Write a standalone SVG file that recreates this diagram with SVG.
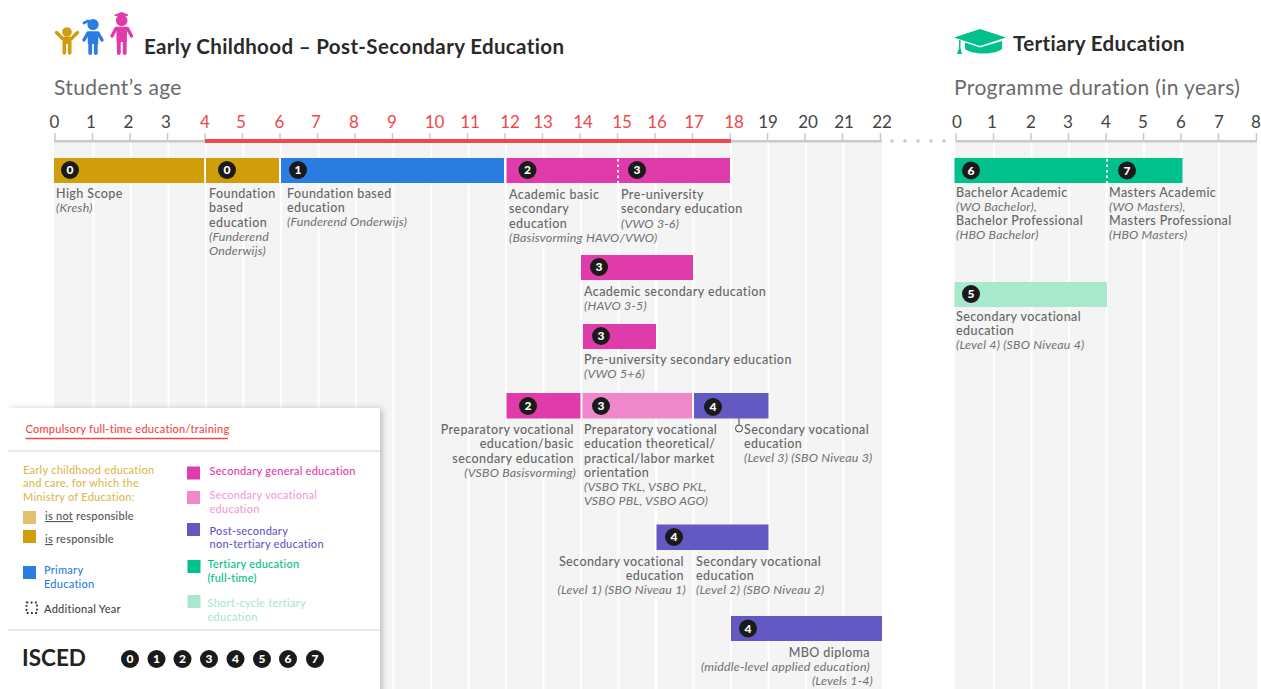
<svg xmlns="http://www.w3.org/2000/svg" width="1261" height="689" viewBox="0 0 1261 689">
<defs>
<filter id="sh" x="-10%" y="-10%" width="120%" height="120%"><feDropShadow dx="2" dy="1" stdDeviation="3" flood-color="#000" flood-opacity="0.25"/></filter>
<g id="b"><circle r="9" fill="#1a1a1a"/></g>
</defs>
<style>
text{font-family:"Lato","Liberation Sans",sans-serif}
.h{font-size:20.5px;font-weight:700;fill:#2a2a2a;letter-spacing:.36px}
.sub{font-size:21px;fill:#6a6a6a;letter-spacing:.38px}
.n{font-size:17px;fill:#444;text-anchor:middle}
.r{fill:#f0474a}
.t{font-size:12.5px;fill:#666;font-weight:500;letter-spacing:.42px}
.i{font-size:12.4px;fill:#707070;font-style:italic;letter-spacing:.2px}
.e{text-anchor:end}
.bn{font-size:12px;font-weight:900;fill:#fff;text-anchor:middle}
.l{font-size:11px;font-weight:500;letter-spacing:.25px}
.g{stroke:#fff;stroke-width:2}
.tk{stroke:#c9c9c9;stroke-width:1.5}
</style>
<rect width="1261" height="689" fill="#fff"/>
<g id="grid">
<rect x="54" y="142" width="828" height="547" fill="#f4f4f4"/>
<rect x="955" y="142" width="302" height="547" fill="#f4f4f4"/>
<path class="g" d="M93.5 142V689M131 142V689M168.5 142V689M206 142V689M243.5 142V689M281 142V689M318.5 142V689M356 142V689M393.5 142V689M431 142V689M468.5 142V689M506 142V689M543.5 142V689M581 142V689M618.5 142V689M656 142V689M693.5 142V689M731 142V689M768.5 142V689M806 142V689M843.5 142V689M994 142V689M1031.5 142V689M1069 142V689M1106.5 142V689M1144 142V689M1181.5 142V689M1219 142V689"/>
</g>
<g id="axes">
<path class="tk" d="M55 133V141M92.5 133V141M130 133V141M167.5 133V141M205 133V141M242.5 133V141M280 133V141M317.5 133V141M355 133V141M392.5 133V141M430 133V141M467.5 133V141M505 133V141M542.5 133V141M580 133V141M617.5 133V141M655 133V141M692.5 133V141M730 133V141M767.5 133V141M805 133V141M842.5 133V141M880.5 133V141M956 133V141M993.5 133V141M1031 133V141M1068.5 133V141M1106 133V141M1143.5 133V141M1181 133V141M1218.5 133V141M1256.5 133V141"/>
<rect x="54" y="140" width="828" height="2.5" fill="#c9c9c9"/>
<rect x="956" y="140" width="301" height="2.5" fill="#c9c9c9"/>
<rect x="205" y="139" width="526" height="4" fill="#f0474a"/>
<g fill="#c9c9c9"><circle cx="892" cy="141" r="1.8"/><circle cx="905" cy="141" r="1.8"/><circle cx="918" cy="141" r="1.8"/><circle cx="931" cy="141" r="1.8"/><circle cx="944" cy="141" r="1.8"/></g>
<g class="n">
<text class="n" x="54.5" y="127.500">0</text><text class="n" x="91" y="127.500">1</text><text class="n" x="128.5" y="127.500">2</text><text class="n" x="166" y="127.500">3</text>
<text class="n r" x="205" y="127.500">4</text><text class="n r" x="241" y="127.500">5</text><text class="n r" x="279.5" y="127.500">6</text><text class="n r" x="316" y="127.500">7</text><text class="n r" x="354" y="127.500">8</text><text class="n r" x="392" y="127.500">9</text><text class="n r" x="434.5" y="127.500">10</text><text class="n r" x="470" y="127.500">11</text><text class="n r" x="510" y="127.500">12</text><text class="n r" x="543" y="127.500">13</text><text class="n r" x="583" y="127.500">14</text><text class="n r" x="622" y="127.500">15</text><text class="n r" x="657" y="127.500">16</text><text class="n r" x="694" y="127.500">17</text><text class="n r" x="734" y="127.500">18</text>
<text class="n" x="768" y="127.500">19</text><text class="n" x="808" y="127.500">20</text><text class="n" x="844" y="127.500">21</text><text class="n" x="882" y="127.500">22</text>
<text class="n" x="957" y="127.500">0</text><text class="n" x="992" y="127.500">1</text><text class="n" x="1031" y="127.500">2</text><text class="n" x="1068" y="127.500">3</text><text class="n" x="1106" y="127.500">4</text><text class="n" x="1143" y="127.500">5</text><text class="n" x="1181" y="127.500">6</text><text class="n" x="1219" y="127.500">7</text><text class="n" x="1256" y="127.500">8</text>
</g>
</g>
<g id="headers">
<g fill="none" stroke-linecap="round" stroke-linejoin="round">
<g stroke="#d09e0b"><circle cx="67" cy="32" r="4.8" fill="#d09e0b" stroke="none"/><path d="M56.500 32.500L62.500 38.500H71.500L77.500 32.500" stroke-width="3.400"/><path d="M67 39V44" stroke-width="9" stroke-linecap="butt"/><path d="M64.300 44V53M69.700 44V53" stroke-width="3.600"/></g>
<g stroke="#2b7de1"><circle cx="93" cy="24.500" r="5.600" fill="#2b7de1" stroke="none"/><path d="M84 23L88 21" stroke-width="2.800"/><path d="M84 40L88 33H98L102 40" stroke-width="3.400"/><path d="M93 33V44" stroke-width="10.500" stroke-linecap="butt"/><path d="M90.200 44V53M95.800 44V53" stroke-width="3.800"/></g>
<g stroke="#e03bab"><circle cx="121.700" cy="20.500" r="5.800" fill="#e03bab" stroke="none"/><path d="M115 15L121.700 12.500L128 15L121.700 17Z" fill="#e03bab" stroke-width="1"/><path d="M112 36L116 28.500H127.500L131.500 36" stroke-width="3.400"/><path d="M121.700 28V42" stroke-width="10.500" stroke-linecap="butt"/><path d="M118.800 42V53M124.700 42V53" stroke-width="3.900"/></g>
</g>
<path d="M980 29L1006 37.500L980 46L954 37.500Z" fill="#00c08b"/>
<path d="M965 42.500L980 47.500L1002 41V49C995 55 972 55 965 49Z" fill="#00c08b"/>
<path d="M959 40V48L957 54H962L960.500 48V40Z" fill="#00c08b"/>
<text class="h" x="144" y="54">Early Childhood – Post-Secondary Education</text>
<text class="h" x="1013" y="51">Tertiary Education</text>
<text class="sub" x="54" y="95">Student’s age</text>
<text class="sub" x="954" y="95">Programme duration (in years)</text>
</g>
<g id="connectors">
<path d="M739 417V425" stroke="#444" stroke-width="1" fill="none"/>
<circle cx="739" cy="428.500" r="3.500" fill="none" stroke="#444" stroke-width="1"/>
</g>
<g id="n-highscope"><rect x="54" y="158" width="150" height="25" fill="#d09e0b"/><use href="#b" x="70" y="170"/><text class="bn" x="70" y="174.300">0</text>
<text class="t" x="56" y="197.500">High Scope</text><text class="i" x="56" y="211.500">(Kresh)</text></g>
<g id="n-foundation0"><rect x="206" y="158" width="73" height="25" fill="#d09e0b"/><use href="#b" x="227" y="170"/><text class="bn" x="227" y="174.300">0</text>
<text class="t" x="209" y="197.500">Foundation</text><text class="t" x="209" y="211.500">based</text><text class="t" x="209" y="226.500">education</text><text class="i" x="209" y="241">(Funderend</text><text class="i" x="209" y="254.500">Onderwijs)</text></g>
<g id="n-foundation1"><rect x="281" y="158" width="223" height="25" fill="#2b7de1"/><use href="#b" x="298" y="170"/><text class="bn" x="298" y="174.300">1</text>
<text class="t" x="287" y="197.500">Foundation based</text><text class="t" x="287" y="212">education</text><text class="i" x="287" y="226">(Funderend Onderwijs)</text></g>
<g id="n-academic-basic"><rect x="506.500" y="158" width="223.500" height="25" fill="#e03bab"/><path d="M618 159V183" stroke="#fff" stroke-width="2" stroke-dasharray="2.500 3"/><use href="#b" x="527.500" y="170"/><text class="bn" x="527.500" y="174.300">2</text><use href="#b" x="637" y="170"/><text class="bn" x="637" y="174.300">3</text>
<text class="t" x="509" y="198.500">Academic basic</text><text class="t" x="509" y="213">secondary</text><text class="t" x="509" y="227.500">education</text><text class="i" x="509" y="242">(Basisvorming HAVO/VWO)</text>
<text class="t" x="621" y="198.500">Pre-university</text><text class="t" x="621" y="213">secondary education</text><text class="i" x="621" y="227.500">(VWO 3-6)</text></g>
<g id="n-havo"><rect x="581" y="255" width="112" height="25" fill="#e03bab"/><use href="#b" x="599" y="267"/><text class="bn" x="599" y="271.300">3</text>
<text class="t" x="584" y="296">Academic secondary education</text><text class="i" x="584" y="310">(HAVO 3-5)</text></g>
<g id="n-vwo"><rect x="583" y="324" width="73" height="25" fill="#e03bab"/><use href="#b" x="601" y="336"/><text class="bn" x="601" y="340.300">3</text>
<text class="t" x="584" y="364">Pre-university secondary education</text><text class="i" x="584" y="378">(VWO 5+6)</text></g>
<g id="n-vsbo-basis"><rect x="506.500" y="393" width="74" height="25.500" fill="#e03bab"/><use href="#b" x="528" y="406"/><text class="bn" x="528" y="410.300">2</text>
<text class="t e" x="574" y="434">Preparatory vocational</text><text class="t e" x="574" y="448">education/basic</text><text class="t e" x="574" y="463">secondary education</text><text class="i e" x="576" y="477">(VSBO Basisvorming)</text></g>
<g id="n-vsbo"><rect x="582.500" y="393" width="109.500" height="25.500" fill="#ee88cb"/><use href="#b" x="601" y="406"/><text class="bn" x="601" y="410.300">3</text>
<text class="t" x="584" y="434">Preparatory vocational</text><text class="t" x="584" y="448">education theoretical/</text><text class="t" x="584" y="463">practical/labor market</text><text class="t" x="584" y="477">orientation</text><text class="i" x="584" y="491">(VSBO TKL, VSBO PKL,</text><text class="i" x="584" y="505">VSBO PBL, VSBO AGO)</text></g>
<g id="n-sbo3"><rect x="694" y="393" width="74.500" height="25.500" fill="#6459c3"/><use href="#b" x="713" y="407"/><text class="bn" x="713" y="411.300">4</text>
<text class="t" x="744" y="434">Secondary vocational</text><text class="t" x="744" y="448">education</text><text class="i" x="744" y="462">(Level 3) (SBO Niveau 3)</text></g>
<g id="n-sbo12"><rect x="656.500" y="524.500" width="112" height="25.500" fill="#6459c3"/><use href="#b" x="674" y="537"/><text class="bn" x="674" y="541.300">4</text>
<text class="t e" x="684" y="565.500">Secondary vocational</text><text class="t e" x="684" y="580">education</text><text class="i e" x="686" y="594">(Level 1) (SBO Niveau 1)</text>
<text class="t" x="696" y="565.500">Secondary vocational</text><text class="t" x="696" y="580">education</text><text class="i" x="696" y="594">(Level 2) (SBO Niveau 2)</text></g>
<g id="n-mbo"><rect x="731" y="616" width="151" height="25" fill="#6459c3"/><use href="#b" x="748" y="628.500"/><text class="bn" x="748" y="632.800">4</text>
<text class="t e" x="870" y="656.500">MBO diploma</text><text class="i e" x="870" y="670.500">(middle-level applied education)</text><text class="i e" x="873" y="684.500">(Levels 1-4)</text></g>
<g id="n-bachelor"><rect x="954.500" y="158" width="228" height="25" fill="#00c08b"/><path d="M1107 159V183" stroke="#fff" stroke-width="2" stroke-dasharray="2.500 3"/><use href="#b" x="971" y="170.500"/><text class="bn" x="971" y="174.800">6</text><use href="#b" x="1127" y="170.500"/><text class="bn" x="1127" y="174.800">7</text>
<text class="t" x="956" y="197">Bachelor Academic</text><text class="i" x="956" y="211">(WO Bachelor),</text><text class="t" x="956" y="225">Bachelor Professional</text><text class="i" x="956" y="239">(HBO Bachelor)</text>
<text class="t" x="1109" y="197">Masters Academic</text><text class="i" x="1109" y="211">(WO Masters),</text><text class="t" x="1109" y="225">Masters Professional</text><text class="i" x="1109" y="239">(HBO Masters)</text></g>
<g id="n-sbo4"><rect x="954.500" y="282" width="152.500" height="25" fill="#a8e8cc"/><use href="#b" x="971" y="294"/><text class="bn" x="971" y="298.300">5</text>
<text class="t" x="956" y="320.500">Secondary vocational</text><text class="t" x="956" y="335">education</text><text class="i" x="956" y="349">(Level 4) (SBO Niveau 4)</text></g>
<g id="legend">
<rect x="8" y="408" width="372" height="290" fill="#fff" filter="url(#sh)"/>
<rect x="0" y="400" width="8" height="289" fill="#fff"/>
<path d="M8 451H380M8 630H380" stroke="#e2e2e2" stroke-width="1.500"/>
<text class="l" x="25.500" y="433" fill="#f0474a">Compulsory full-time education/training</text>
<path d="M25.500 438.500H228" stroke="#f0474a" stroke-width="1.500"/>
<g class="l" fill="#dcb955"><text class="l" x="23" y="474">Early childhood education</text><text class="l" x="23" y="487">and care, for which the</text><text class="l" x="23" y="501">Ministry of Education:</text></g>
<rect x="23" y="511" width="13" height="13" fill="#e3c06f"/><text class="l" x="45" y="520" fill="#555"><tspan text-decoration="underline">is not</tspan> responsible</text>
<rect x="23" y="530" width="13" height="13" fill="#d09e0b"/><text class="l" x="45" y="543" fill="#555"><tspan text-decoration="underline">is</tspan> responsible</text>
<rect x="23" y="566" width="13" height="13" fill="#2b7de1"/><text class="l" x="44" y="574" fill="#2b7de1">Primary</text><text class="l" x="44" y="588" fill="#2b7de1">Education</text>
<rect x="26.500" y="602.500" width="10.500" height="10.500" fill="none" stroke="#333" stroke-width="1.800" stroke-dasharray="1.800 2.400"/><text class="l" x="44" y="613" fill="#444">Additional Year</text>
<rect x="187" y="466.500" width="13" height="13" fill="#e03bab"/><text class="l" x="209.500" y="475" fill="#e03bab">Secondary general education</text>
<rect x="187" y="491" width="13" height="13" fill="#ee88cb"/><text class="l" x="209.500" y="499" fill="#f0a0d5">Secondary vocational</text><text class="l" x="209.500" y="513" fill="#f0a0d5">education</text>
<rect x="187" y="523" width="13" height="13" fill="#6459c3"/><text class="l" x="209.500" y="535" fill="#6459c3">Post-secondary</text><text class="l" x="209.500" y="548" fill="#6459c3">non-tertiary education</text>
<rect x="187.500" y="560" width="13" height="13" fill="#00c08b"/><text class="l" x="207.500" y="568" fill="#00c08b">Tertiary education</text><text class="l" x="207.500" y="582" fill="#00c08b">(full-time)</text>
<rect x="187.500" y="595" width="13" height="13" fill="#a8e8cc"/><text class="l" x="207.500" y="607" fill="#a8e8cc">Short-cycle tertiary</text><text class="l" x="207.500" y="621" fill="#a8e8cc">education</text>
<text x="22" y="665.500" font-size="22.500" font-weight="700" fill="#222">ISCED</text>
<use href="#b" x="130" y="659"/><text class="bn" x="130" y="663.300">0</text>
<use href="#b" x="156.500" y="659"/><text class="bn" x="156.500" y="663.300">1</text>
<use href="#b" x="182.500" y="659"/><text class="bn" x="182.500" y="663.300">2</text>
<use href="#b" x="209" y="659"/><text class="bn" x="209" y="663.300">3</text>
<use href="#b" x="235.500" y="659"/><text class="bn" x="235.500" y="663.300">4</text>
<use href="#b" x="262" y="659"/><text class="bn" x="262" y="663.300">5</text>
<use href="#b" x="288" y="659"/><text class="bn" x="288" y="663.300">6</text>
<use href="#b" x="315" y="659"/><text class="bn" x="315" y="663.300">7</text>
</g>
</svg>
